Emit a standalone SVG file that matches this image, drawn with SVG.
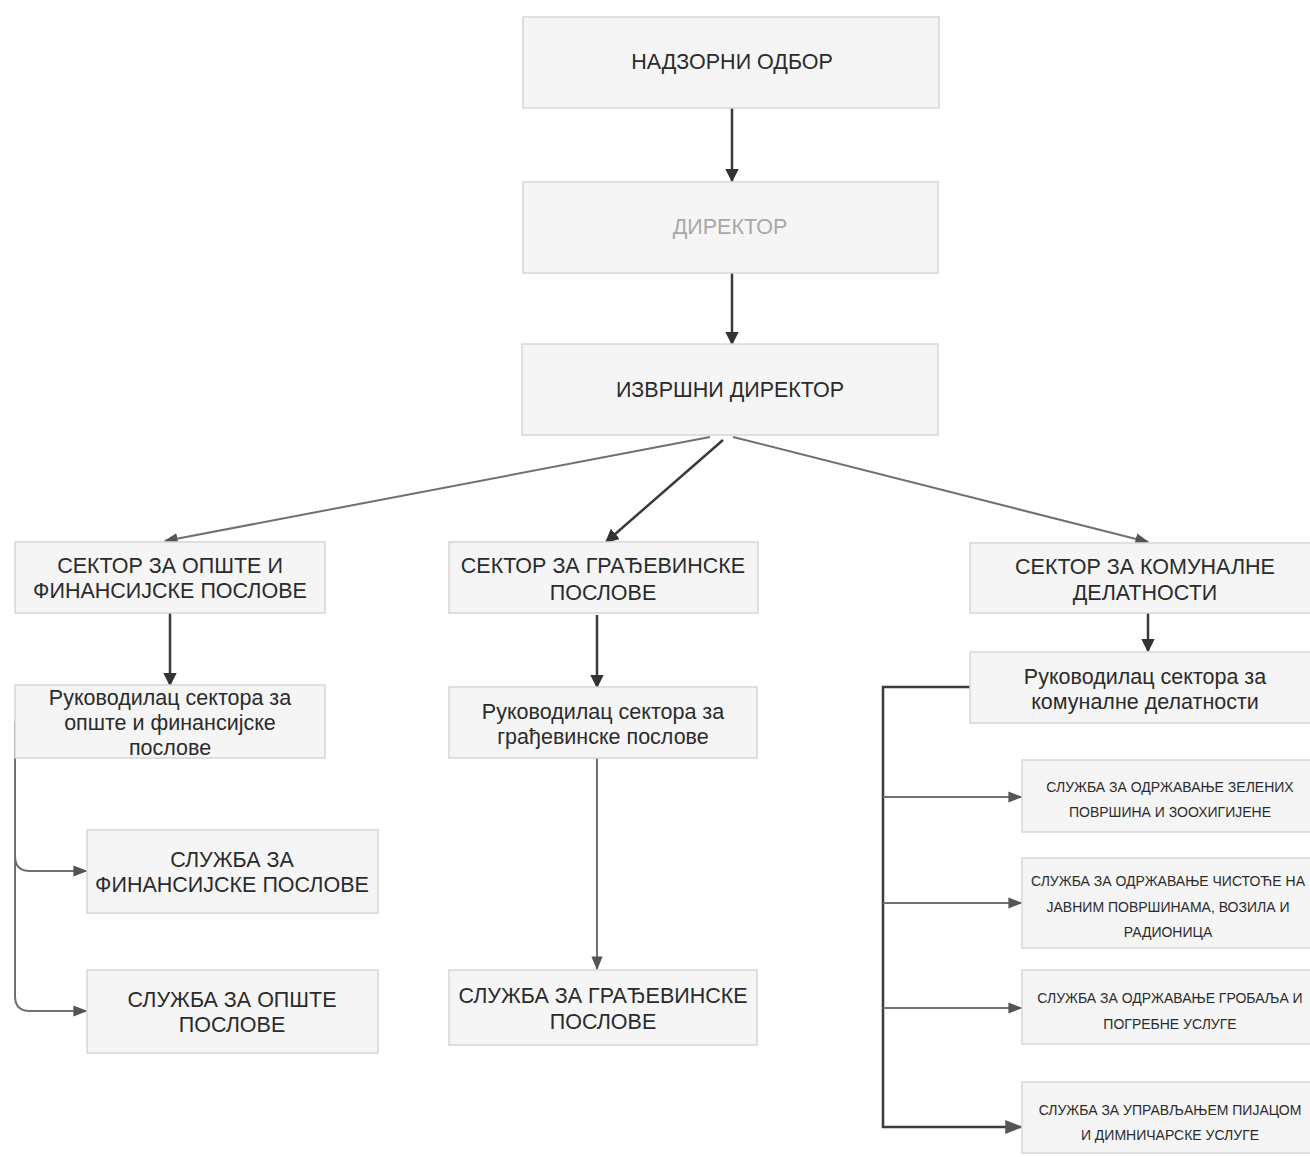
<svg xmlns="http://www.w3.org/2000/svg" width="1310" height="1157" viewBox="0 0 1310 1157">
<style>
.box{fill:#f5f5f5;stroke:#d6d6d6;stroke-width:1.5}
.t{font-family:"Liberation Sans",Arial,sans-serif;fill:#2b2b2b;text-anchor:middle;dominant-baseline:central}
.big{font-size:21.5px}
.sm{font-size:14px}
.c{fill:none;stroke:#3a3a3a;stroke-width:2.5}
.cl{fill:none;stroke:#707070;stroke-width:2}
</style>
<defs>
<marker id="ah" viewBox="0 0 10 10" refX="9" refY="5" markerWidth="5.5" markerHeight="5.5" orient="auto" markerUnits="strokeWidth">
<path d="M0,0 L10,5 L0,10 z" fill="#333"/>
</marker>
<marker id="ahs" viewBox="0 0 10 10" refX="9" refY="5" markerWidth="7" markerHeight="7" orient="auto" markerUnits="strokeWidth">
<path d="M0,1 L10,5 L0,9 z" fill="#555"/>
</marker>
</defs>
<rect width="1310" height="1157" fill="#ffffff"/>

<g id="connectors">
<line class="c" x1="732" y1="108" x2="732" y2="181" marker-end="url(#ah)"/>
<line class="c" x1="732" y1="273" x2="732" y2="344" marker-end="url(#ah)"/>
<line class="cl" x1="710" y1="437" x2="165" y2="541" marker-end="url(#ahs)"/>
<line class="c" x1="723" y1="440" x2="606" y2="542" marker-end="url(#ah)"/>
<line class="cl" x1="733" y1="437" x2="1148" y2="542" marker-end="url(#ahs)"/>
<line class="c" x1="170" y1="613" x2="170" y2="685" marker-end="url(#ah)"/>
<line class="c" x1="597" y1="615" x2="597" y2="687" marker-end="url(#ah)"/>
<line class="c" x1="1148" y1="613" x2="1148" y2="651" marker-end="url(#ah)"/>
<line class="cl" x1="597" y1="758" x2="597" y2="969" marker-end="url(#ahs)"/>
<path class="cl" d="M15,721 V856 Q15,871 30,871 H86" marker-end="url(#ahs)"/>
<path class="cl" d="M15,856 V996 Q15,1011 30,1011 H86" marker-end="url(#ahs)"/>
<path class="c" d="M970,687 H883 V1127 H1021" marker-end="url(#ahs)"/>
<line class="cl" x1="883" y1="797" x2="1021" y2="797" marker-end="url(#ahs)"/>
<line class="cl" x1="883" y1="903" x2="1021" y2="903" marker-end="url(#ahs)"/>
<line class="cl" x1="883" y1="1008" x2="1021" y2="1008" marker-end="url(#ahs)"/>
</g>

<g id="nadzorni">
<rect class="box" x="523" y="17" width="416" height="91"/>
<text class="t big" x="732" y="62">НАДЗОРНИ ОДБОР</text>
</g>
<g id="direktor">
<rect class="box" x="523" y="182" width="415" height="91"/>
<text class="t big" x="730" y="227" style="fill:#a8a8a8">ДИРЕКТОР</text>
</g>
<g id="izvrsni">
<rect class="box" x="522" y="344" width="416" height="91"/>
<text class="t big" x="730" y="390">ИЗВРШНИ ДИРЕКТОР</text>
</g>

<g id="sektor-opste">
<rect class="box" x="15" y="542" width="310" height="71"/>
<text class="t big" x="170" y="566">СЕКТОР ЗА ОПШТЕ И</text>
<text class="t big" x="170" y="591">ФИНАНСИЈСКЕ ПОСЛОВЕ</text>
</g>
<g id="sektor-gradj">
<rect class="box" x="449" y="542" width="309" height="71"/>
<text class="t big" x="603" y="566">СЕКТОР ЗА ГРАЂЕВИНСКЕ</text>
<text class="t big" x="603" y="593">ПОСЛОВЕ</text>
</g>
<g id="sektor-kom">
<rect class="box" x="970" y="543" width="350" height="70"/>
<text class="t big" x="1145" y="567">СЕКТОР ЗА КОМУНАЛНЕ</text>
<text class="t big" x="1145" y="593">ДЕЛАТНОСТИ</text>
</g>

<g id="ruk-opste">
<rect class="box" x="15" y="685" width="310" height="73"/>
<text class="t big" x="170" y="698">Руководилац сектора за</text>
<text class="t big" x="170" y="723">опште и финансијске</text>
<text class="t big" x="170" y="748">послове</text>
</g>
<g id="ruk-gradj">
<rect class="box" x="449" y="687" width="308" height="71"/>
<text class="t big" x="603" y="712">Руководилац сектора за</text>
<text class="t big" x="603" y="737">грађевинске послове</text>
</g>
<g id="ruk-kom">
<rect class="box" x="970" y="652" width="350" height="71"/>
<text class="t big" x="1145" y="677">Руководилац сектора за</text>
<text class="t big" x="1145" y="702">комуналне делатности</text>
</g>

<g id="sl-fin">
<rect class="box" x="87" y="830" width="291" height="83"/>
<text class="t big" x="232" y="860">СЛУЖБА ЗА</text>
<text class="t big" x="232" y="885">ФИНАНСИЈСКЕ ПОСЛОВЕ</text>
</g>
<g id="sl-opste">
<rect class="box" x="87" y="970" width="291" height="83"/>
<text class="t big" x="232" y="1000">СЛУЖБА ЗА ОПШТЕ</text>
<text class="t big" x="232" y="1025">ПОСЛОВЕ</text>
</g>
<g id="sl-gradj">
<rect class="box" x="449" y="970" width="308" height="75"/>
<text class="t big" x="603" y="996">СЛУЖБА ЗА ГРАЂЕВИНСКЕ</text>
<text class="t big" x="603" y="1022">ПОСЛОВЕ</text>
</g>

<g id="sl-zelene">
<rect class="box" x="1022" y="760" width="298" height="72"/>
<text class="t sm" x="1170" y="787">СЛУЖБА ЗА ОДРЖАВАЊЕ ЗЕЛЕНИХ</text>
<text class="t sm" x="1170" y="812">ПОВРШИНА И ЗООХИГИЈЕНЕ</text>
</g>
<g id="sl-cistoca">
<rect class="box" x="1022" y="858" width="298" height="90"/>
<text class="t sm" x="1168" y="881">СЛУЖБА ЗА ОДРЖАВАЊЕ ЧИСТОЋЕ НА</text>
<text class="t sm" x="1168" y="907">ЈАВНИМ ПОВРШИНАМА, ВОЗИЛА И</text>
<text class="t sm" x="1168" y="932">РАДИОНИЦА</text>
</g>
<g id="sl-groblja">
<rect class="box" x="1022" y="970" width="298" height="74"/>
<text class="t sm" x="1170" y="998">СЛУЖБА ЗА ОДРЖАВАЊЕ ГРОБАЉА И</text>
<text class="t sm" x="1170" y="1024">ПОГРЕБНЕ УСЛУГЕ</text>
</g>
<g id="sl-pijaca">
<rect class="box" x="1022" y="1082" width="298" height="71"/>
<text class="t sm" x="1170" y="1110">СЛУЖБА ЗА УПРАВЉАЊЕМ ПИЈАЦОМ</text>
<text class="t sm" x="1170" y="1135">И ДИМНИЧАРСКЕ УСЛУГЕ</text>
</g>
</svg>
